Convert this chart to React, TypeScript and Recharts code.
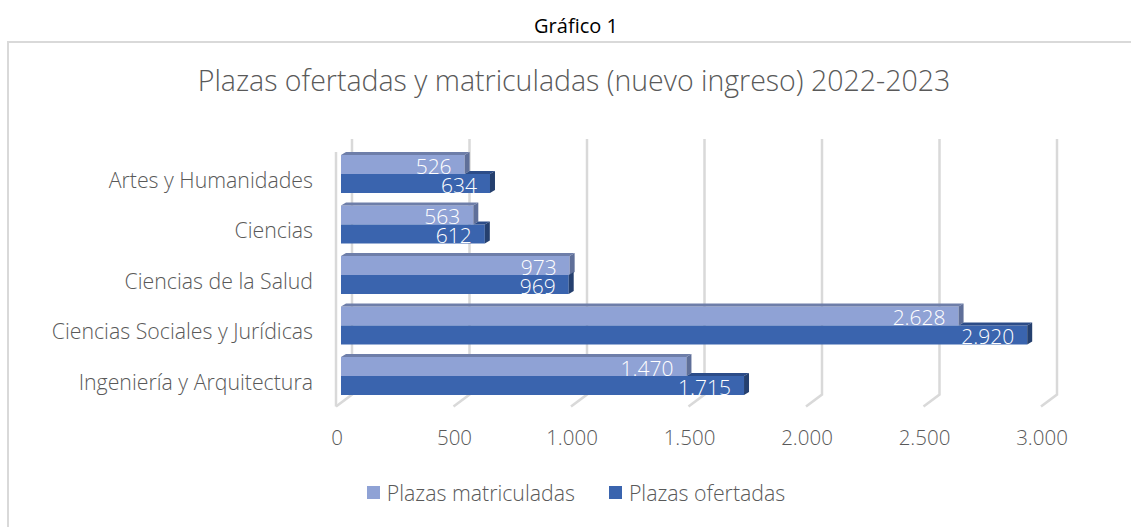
import React from "react";
import { BarChart, Bar, XAxis, YAxis, CartesianGrid, Legend, LabelList } from "recharts";

const categories = [
  "Artes y Humanidades",
  "Ciencias",
  "Ciencias de la Salud",
  "Ciencias Sociales y Jurídicas",
  "Ingeniería y Arquitectura",
];
const matriculadas = [526, 563, 973, 2628, 1470];
const ofertadas = [634, 612, 969, 2920, 1715];
const xTicks = [0, 500, 1000, 1500, 2000, 2500, 3000];

const data = categories.map((name, i) => ({
  name,
  matriculadas: matriculadas[i],
  ofertadas: ofertadas[i],
}));

const FONT = "'Open Sans', Lato, sans-serif";
const GRAY = "#595959";
const DX = 5;
const DY = 3;

const fmt = (v: number) => String(v).replace(/\B(?=(\d{3})+(?!\d))/g, ".");

const colors = {
  matriculadas: { front: "#8FA2D5", top: "#6E7EA9", side: "#5F6F99" },
  ofertadas: { front: "#3A64AE", top: "#2C4C88", side: "#25406F" },
};

const Bar3D = (key: "matriculadas" | "ofertadas") => (props: any) => {
  const { x, y, width, height, payload } = props;
  const c = colors[key];
  const r = x + width;
  let topStart = x;
  if (key === "ofertadas") {
    // the bar above hides the part of the top face under it
    const wm = (width * payload.matriculadas) / payload.ofertadas;
    topStart = x + Math.min(wm, width);
  }
  return (
    <g>
      <rect x={x} y={y} width={width} height={height} fill={c.front} />
      {r > topStart && (
        <polygon
          points={`${topStart},${y} ${topStart + DX},${y - DY} ${r + DX},${y - DY} ${r},${y}`}
          fill={c.top}
        />
      )}
      <polygon
        points={`${r},${y} ${r + DX},${y - DY} ${r + DX},${y + height - DY} ${r},${y + height}`}
        fill={c.side}
      />
    </g>
  );
};

const ValueLabel = (props: any) => {
  const { x, y, width, height, value } = props;
  return (
    <text
      x={x + width - 13}
      y={y + height / 2 + 1}
      textAnchor="end"
      dominantBaseline="central"
      fill="#ffffff"
      fontSize={21}
      fontWeight={300}
      fontFamily={FONT}
    >
      {fmt(value)}
    </text>
  );
};

const GridLine = (props: any) => {
  const { x1, y1, y2, index } = props;
  const bx = x1 + 11;
  const fx = x1 - 5;
  return (
    <g key={`g-${index}`}>
      <path
        d={`M${bx},${y1 - 10} L${bx},${y2 - 7} L${fx},${y2 + 5}`}
        stroke="#D9D9D9"
        strokeWidth={2.5}
        fill="none"
      />
      {index === 0 && (
        <path d={`M${fx},${y1 + 3} L${fx},${y2 + 5}`} stroke="#D9D9D9" strokeWidth={2.5} fill="none" />
      )}
    </g>
  );
};

const YTick = (props: any) => {
  const { x, y, payload } = props;
  return (
    <text x={x - 20} y={y + 5} textAnchor="end" dominantBaseline="central" fill={GRAY} fontSize={21.3} fontWeight={300} fontFamily={FONT}>
      {payload.value}
    </text>
  );
};

const XTick = (props: any) => {
  const { x, y, payload } = props;
  return (
    <text x={x - 4} y={y + 27} textAnchor="middle" dominantBaseline="central" fill={GRAY} fontSize={20.5} fontWeight={300} fontFamily={FONT}>
      {fmt(payload.value)}
    </text>
  );
};

const LegendContent = () => (
  <div style={{ display: "flex", justifyContent: "center", fontFamily: FONT, fontWeight: 300, fontSize: 21.3, color: GRAY }}>
    {[
      { label: "Plazas matriculadas", color: colors.matriculadas.front },
      { label: "Plazas ofertadas", color: colors.ofertadas.front },
    ].map((it, i) => (
      <div key={it.label} style={{ display: "flex", alignItems: "center", marginLeft: i ? 34 : 0 }}>
        <span style={{ width: 13, height: 13, background: it.color, display: "inline-block", marginRight: 7 }} />
        <span>{it.label}</span>
      </div>
    ))}
  </div>
);

export default function App() {
  return (
    <div style={{ position: "absolute", left: 0, top: 0, width: 1131, height: 527, overflow: "hidden", background: "#fff" }}>
      <div style={{ position: "absolute", left: 0, top: 12, width: 1152, textAlign: "center", fontFamily: FONT, fontSize: 20, color: "#000" }}>
        Gráfico 1
      </div>
      <div style={{ position: "absolute", left: 7, top: 41, width: 1300, height: 700, border: "2px solid #D9D9D9" }} />
      <div style={{ position: "absolute", left: 0, top: 61, width: 1148, textAlign: "center", fontFamily: FONT, fontWeight: 300, fontSize: 28.5, color: GRAY }}>
        Plazas ofertadas y matriculadas (nuevo ingreso) 2022-2023
      </div>
      <div style={{ position: "absolute", left: 0, top: 0 }}>
        <BarChart
          width={1131}
          height={527}
          data={data}
          layout="vertical"
          margin={{ top: 149, right: 85, left: 0, bottom: 85.5 }}
          barSize={19}
          barGap={0}
        >
          <CartesianGrid horizontal={false} vertical={GridLine} />
          <XAxis type="number" domain={[0, 3000]} ticks={xTicks} axisLine={false} tickLine={false} tick={<XTick />} height={40} />
          <YAxis type="category" dataKey="name" axisLine={false} tickLine={false} tick={<YTick />} width={341} />
          <Legend verticalAlign="middle" align="center" wrapperStyle={{ top: 478, left: 0, width: 1152 }} content={<LegendContent />} />
          <Bar dataKey="matriculadas" name="Plazas matriculadas" fill={colors.matriculadas.front} shape={Bar3D("matriculadas")} isAnimationActive={false}>
            <LabelList dataKey="matriculadas" content={<ValueLabel />} />
          </Bar>
          <Bar dataKey="ofertadas" name="Plazas ofertadas" fill={colors.ofertadas.front} shape={Bar3D("ofertadas")} isAnimationActive={false}>
            <LabelList dataKey="ofertadas" content={<ValueLabel />} />
          </Bar>
        </BarChart>
      </div>
    </div>
  );
}
